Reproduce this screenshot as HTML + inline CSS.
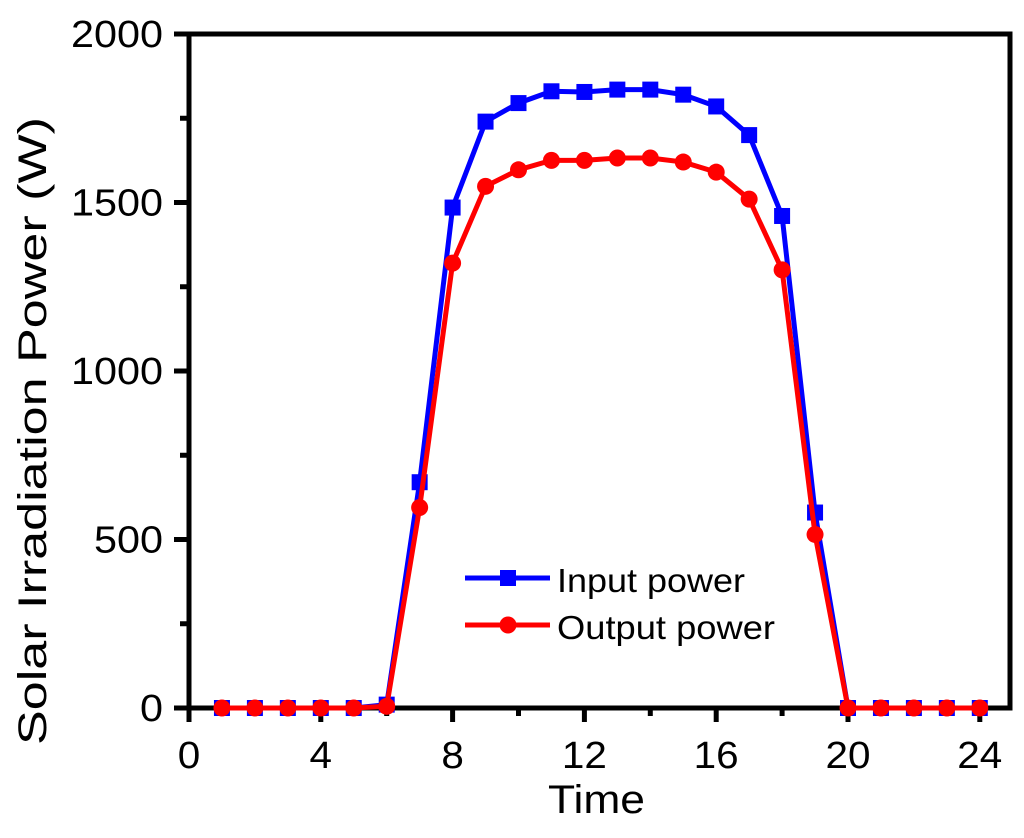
<!DOCTYPE html>
<html><head><meta charset="utf-8"><style>
body{margin:0;background:#fff}
svg text{font-family:"Liberation Sans",Arial,sans-serif;fill:#000}
</style></head><body>
<svg id="chart" width="1024" height="833" viewBox="0 0 1024 833" xmlns="http://www.w3.org/2000/svg">
<g id="axes"></g><g id="series"></g>
<g>
 <line x1="465" y1="578" x2="550" y2="578" stroke="#0000ff" stroke-width="5"/>
 <rect x="500" y="570" width="16" height="16" fill="#0000ff"/>
 <text x="557" y="592" font-size="33" textLength="188" lengthAdjust="spacingAndGlyphs">Input power</text>
 <line x1="465" y1="625" x2="550" y2="625" stroke="#ff0000" stroke-width="5"/>
 <circle cx="508" cy="625" r="8.5" fill="#ff0000"/>
 <text x="557" y="639" font-size="33" textLength="218" lengthAdjust="spacingAndGlyphs">Output power</text>
</g>
<text x="548" y="813" font-size="40" textLength="97" lengthAdjust="spacingAndGlyphs">Time</text>
<text transform="translate(46,431) rotate(-90)" font-size="40" text-anchor="middle" textLength="628" lengthAdjust="spacingAndGlyphs">Solar Irradiation Power (W)</text>
</svg>
<script>
const hours=[1,2,3,4,5,6,7,8,9,10,11,12,13,14,15,16,17,18,19,20,21,22,23,24];
const inputPower=[0,0,0,0,0,10,670,1485,1740,1795,1830,1828,1835,1835,1820,1785,1700,1460,580,0,0,0,0,0];
const outputPower=[0,0,0,0,0,5,595,1320,1548,1597,1625,1625,1632,1632,1620,1590,1510,1300,515,0,0,0,0,0];
const xTicks=[0,4,8,12,16,20,24];
const xMinor=[2,6,10,14,18,22];
const yTicks=[0,500,1000,1500,2000];
const yMinor=[250,750,1250,1750];
const NS="http://www.w3.org/2000/svg";
const X=v=>189+v*32.95, Y=v=>708-v*0.337;
function mk(t,a,p){const e=document.createElementNS(NS,t);for(const k in a)e.setAttribute(k,a[k]);p.appendChild(e);return e;}
const ax=document.getElementById('axes'), se=document.getElementById('series');
let fr=mk('rect',{x:189,y:34,width:821,height:674,fill:'none',stroke:'#000','stroke-width':5},ax);


xTicks.forEach(v=>{
 let l=mk('line',{x1:X(v),x2:X(v),y1:708,y2:722,stroke:'#000','stroke-width':5},ax);
 
 
 const s=String(v);
 let t=mk('text',{x:X(v),y:768,'font-size':38,'text-anchor':'middle',textLength:s.length*22.5,lengthAdjust:'spacingAndGlyphs'},ax);t.textContent=s;
 
 
});
xMinor.forEach(v=>{
 let l=mk('line',{x1:X(v),x2:X(v),y1:708,y2:716,stroke:'#000','stroke-width':5},ax);
 
 
});
yTicks.forEach(v=>{
 let l=mk('line',{x1:174,x2:189,y1:Y(v),y2:Y(v),stroke:'#000','stroke-width':5},ax);
 
 
 const s=String(v);
 let t=mk('text',{x:163,y:Y(v)+13,'font-size':38,'text-anchor':'end',textLength:s.length*23,lengthAdjust:'spacingAndGlyphs'},ax);t.textContent=s;
 
 
});
yMinor.forEach(v=>{
 let l=mk('line',{x1:180,x2:189,y1:Y(v),y2:Y(v),stroke:'#000','stroke-width':5},ax);
 
 
});
function series(vals,color,shape,name){
 let p=mk('polyline',{points:hours.map((h,i)=>X(h)+','+Y(vals[i])).join(' '),fill:'none',stroke:color,'stroke-width':5},se);
 
 
 hours.forEach((h,i)=>{
  let m=shape==='sq'?mk('rect',{x:X(h)-8,y:Y(vals[i])-8,width:16,height:16,fill:color},se):mk('circle',{cx:X(h),cy:Y(vals[i]),r:8.5,fill:color},se);
  
  
 });
}
series(inputPower,'#0000ff','sq','input-power');
series(outputPower,'#ff0000','ci','output-power');
</script>
</body></html>
